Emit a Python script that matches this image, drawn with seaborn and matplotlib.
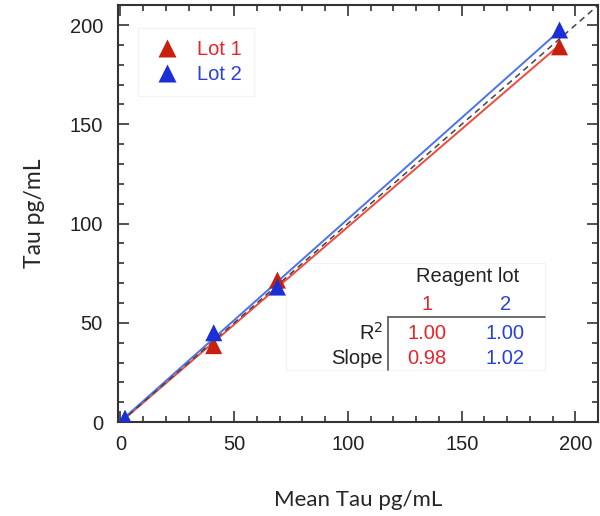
import numpy as np
import pandas as pd
import seaborn as sns
import matplotlib.pyplot as plt
from matplotlib.ticker import MultipleLocator
from matplotlib.patches import Rectangle

# data
lot1_x = [2, 41, 69, 193]
lot1_y = [1, 38.5, 71.5, 189]
lot2_x = [2, 41, 69, 193]
lot2_y = [2, 45, 68, 197.5]
lots = ['Lot 1', 'Lot 2']
r2_vals = ['1.00', '1.00']
slope_vals = ['0.98', '1.02']

df = pd.DataFrame({
    'x': lot1_x + lot2_x,
    'y': lot1_y + lot2_y,
    'lot': [lots[0]] * len(lot1_x) + [lots[1]] * len(lot2_x),
})

sns.set_style('ticks')
plt.rcParams['font.family'] = ['Liberation Sans', 'DejaVu Sans']

marker_cols = {'Lot 1': '#c8200e', 'Lot 2': '#1a2fd6'}
line_cols = {'Lot 1': '#f2493a', 'Lot 2': '#4a72f2'}
text_cols = {'Lot 1': '#e8242a', 'Lot 2': '#2a3fe0'}

fig = plt.figure(figsize=(6, 5.16), dpi=100)
ax = fig.add_axes([0.197, 0.182, 0.8, 0.808])

# table background sits behind the lines
ax.add_patch(Rectangle((0.35, 0.125), 0.54, 0.256, transform=ax.transAxes,
                       facecolor='white', edgecolor='#f2f2f2', lw=0.8, zorder=0.5))

ax.plot([0, 210], [0, 210], ls=(0, (4, 3)), color='#444444', lw=1.1, zorder=2)
for lot in lots:
    sub = df[df['lot'] == lot]
    sns.regplot(data=sub, x='x', y='y', ci=None, scatter=False, truncate=True,
                line_kws={'color': line_cols[lot], 'lw': 1.4, 'zorder': 1}, ax=ax)
sns.scatterplot(data=df, x='x', y='y', hue='lot', palette=marker_cols, marker='^',
                s=150, edgecolor='none', ax=ax, zorder=3)

ax.set_xlim(-1, 210)
ax.set_ylim(0, 210)
ax.xaxis.set_major_locator(MultipleLocator(50))
ax.yaxis.set_major_locator(MultipleLocator(50))
ax.xaxis.set_minor_locator(MultipleLocator(10))
ax.yaxis.set_minor_locator(MultipleLocator(10))
ax.tick_params(which='both', direction='in', top=True, right=True, color='#333333', width=1.2)
ax.tick_params(which='major', length=8, labelsize=14.5, labelcolor='#222222')
ax.tick_params(axis='y', which='major', pad=11)
ax.tick_params(axis='x', which='major', pad=9)
ax.tick_params(which='minor', length=4)
for sp in ax.spines.values():
    sp.set_color('#333333')
    sp.set_linewidth(1.5)

ax.set_xlabel('Mean Tau pg/mL', fontsize=16, family=['Lato', 'DejaVu Sans'], labelpad=26)
ax.set_ylabel('Tau pg/mL', fontsize=16.5, family=['Lato', 'DejaVu Sans'], labelpad=18)

leg = ax.legend(loc='upper left', bbox_to_anchor=(0.042, 0.945), fontsize=14.5, frameon=True,
                fancybox=False, edgecolor='#f2f2f2', handletextpad=0.7, borderpad=0.6,
                labelspacing=0.3, handlelength=1.6, borderaxespad=0)
for t in leg.get_texts():
    t.set_color(text_cols[t.get_text()])

# small table of fit results
ts = 14.5
ax.text(0.727, 0.348, 'Reagent lot', transform=ax.transAxes, ha='center', va='center',
        fontsize=ts, color='#222222', zorder=5)
ax.plot([0.5625, 0.89], [0.252, 0.252], transform=ax.transAxes, color='#555555', lw=1.2, zorder=5)
ax.plot([0.5625, 0.5625], [0.252, 0.125], transform=ax.transAxes, color='#555555', lw=1.2, zorder=5)
ax.text(0.552, 0.213, 'R$^2$', transform=ax.transAxes, ha='right', va='center',
        fontsize=ts, color='#222222', zorder=5)
ax.text(0.552, 0.153, 'Slope', transform=ax.transAxes, ha='right', va='center',
        fontsize=ts, color='#222222', zorder=5)
for i, cx in enumerate([0.644, 0.806]):
    c = text_cols[lots[i]]
    ax.text(cx, 0.281, str(i + 1), transform=ax.transAxes, ha='center', va='center',
            fontsize=ts, color=c, zorder=5)
    ax.text(cx, 0.213, r2_vals[i], transform=ax.transAxes, ha='center', va='center',
            fontsize=ts, color=c, zorder=5)
    ax.text(cx, 0.153, slope_vals[i], transform=ax.transAxes, ha='center', va='center',
            fontsize=ts, color=c, zorder=5)

fig.savefig('out.png', dpi=100)
